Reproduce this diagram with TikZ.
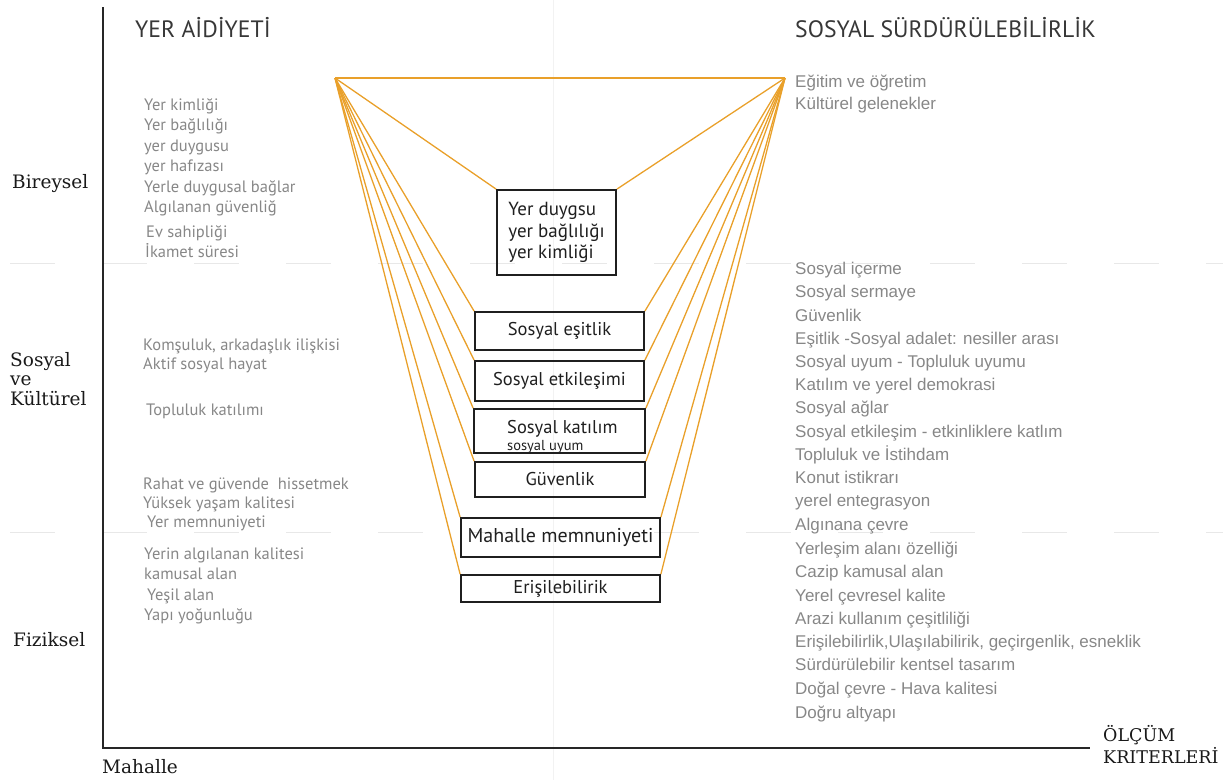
\documentclass[tikz,border=0pt]{standalone}
\usepackage{fontspec}
\setmainfont{PT Sans}
\newfontfamily\myr{PT Sans}
\newfontfamily\ari{Liberation Sans}
\newfontfamily\slab{DejaVu Serif}
\definecolor{org}{RGB}{233,160,42}
\definecolor{lgray}{RGB}{135,135,135}
\definecolor{tgray}{RGB}{55,55,55}
\begin{document}
\begin{tikzpicture}[x=1pt,y=-1pt,
 box/.style={draw=black!88, line width=1.8pt, inner sep=0pt, font=\myr\fontsize{18.5}{22}\selectfont, text=black!88},
 ll/.style={anchor=base west, inner sep=0pt, text=lgray, font=\myr\fontsize{16.5}{18}\selectfont},
 rl/.style={anchor=base west, inner sep=0pt, text=lgray, font=\ari\fontsize{17}{19}\selectfont},
 ax/.style={anchor=base west, inner sep=0pt, text=black!90, font=\slab\fontsize{18.5}{19}\selectfont},
 ttl/.style={anchor=base west, inner sep=0pt, text=tgray, font=\myr\fontsize{23.7}{26}\selectfont},
 link/.style={draw=org, line width=1.3pt},
 gridline/.style={draw=black!9, line width=1pt, dash pattern=on 45pt off 47pt}]
\useasboundingbox (0,0) rectangle (1223,780);
% faint guide lines
\draw[gridline] (10,263) -- (1223,263);
\draw[gridline] (10,532) -- (1223,532);
\draw[draw=black!5, line width=0.8pt] (553,0) -- (553,780);
% axes
\coordinate (yt) at (103,7);
\coordinate (o) at (103,748);
\coordinate (xe) at (1090,748);
\draw[line width=2pt, black!85] (yt) -- (o) -- (xe);
% titles
\node[ttl] (t1) at (135,37) {YER AİDİYETİ};
\node[ttl] (t2) at (795,37) {SOSYAL SÜRDÜRÜLEBİLİRLİK};
% axis labels
\node[ax] (a1) at (12,188) {Bireysel};
\node[ax] (a2) at (10,366) {Sosyal};
\node[ax] (a3) at (10,385) {ve};
\node[ax] (a4) at (10,405) {Kültürel};
\node[ax] (a5) at (13,646) {Fiziksel};
\node[ax] (a6) at (102,773) {Mahalle};
\node[ax, font=\slab\fontsize{17.5}{18}\selectfont] (a7) at (1103,741) {ÖLÇÜM};
\node[ax, font=\slab\fontsize{17.5}{18}\selectfont] (a8) at (1103,763) {KRITERLERİ};
% left list
\node[ll] (l1) at (144,110) {Yer kimliği};
\node[ll] (l2) at (144,130) {Yer bağlılığı};
\node[ll] (l3) at (144,151) {yer duygusu};
\node[ll] (l4) at (144,171) {yer hafızası};
\node[ll] (l5) at (144,192) {Yerle duygusal bağlar};
\node[ll] (l6) at (144,212) {Algılanan güvenliğ};
\node[ll] (l7) at (146,237) {Ev sahipliği};
\node[ll] (l8) at (145,257) {İkamet süresi};
\node[ll] (l9) at (143,350) {Komşuluk, arkadaşlık ilişkisi};
\node[ll] (l10) at (143,369) {Aktif sosyal hayat};
\node[ll] (l11) at (146,415) {Topluluk katılımı};
\node[ll] (l12) at (143,489) {Rahat ve güvende\ \ hissetmek};
\node[ll] (l13) at (143,508) {Yüksek yaşam kalitesi};
\node[ll] (l14) at (147,527) {Yer memnuniyeti};
\node[ll] (l15) at (144,559) {Yerin algılanan kalitesi};
\node[ll] (l16) at (144,579) {kamusal alan};
\node[ll] (l17) at (147,600) {Yeşil alan};
\node[ll] (l18) at (144,620) {Yapı yoğunluğu};
% right list
\node[rl] (r1) at (795,87) {Eğitim ve öğretim};
\node[rl] (r2) at (795,109) {Kültürel gelenekler};
\node[rl] (r3) at (795,274) {Sosyal içerme};
\node[rl] (r4) at (795,297) {Sosyal sermaye};
\node[rl] (r5) at (795,321) {Güvenlik};
\node[rl] (r6) at (795,344) {Eşitlik -Sosyal adalet: nesiller arası};
\node[rl] (r7) at (795,367) {Sosyal uyum - Topluluk uyumu};
\node[rl] (r8) at (795,390) {Katılım ve yerel demokrasi};
\node[rl] (r9) at (795,413) {Sosyal ağlar};
\node[rl] (r10) at (795,437) {Sosyal etkileşim - etkinliklere katlım};
\node[rl] (r11) at (795,460) {Topluluk ve İstihdam};
\node[rl] (r12) at (795,483) {Konut istikrarı};
\node[rl] (r13) at (795,506) {yerel entegrasyon};
\node[rl] (r14) at (795,530) {Algınana çevre};
\node[rl] (r15) at (795,554) {Yerleşim alanı özelliği};
\node[rl] (r16) at (795,577) {Cazip kamusal alan};
\node[rl] (r17) at (795,601) {Yerel çevresel kalite};
\node[rl] (r18) at (795,624) {Arazi kullanım çeşitliliği};
\node[rl] (r19) at (795,647) {Erişilebilirlik,Ulaşılabilirik, geçirgenlik, esneklik};
\node[rl] (r20) at (795,670) {Sürdürülebilir kentsel tasarım};
\node[rl] (r21) at (795,694) {Doğal çevre - Hava kalitesi};
\node[rl] (r22) at (795,718) {Doğru altyapı};
% apexes
\coordinate (L) at (335,78);
\coordinate (R) at (785,78);
% boxes
\node[box, minimum width=119pt, minimum height=85pt, align=left, font=\myr\fontsize{19}{21.5}\selectfont] (b1) at (556.5,232.5) {Yer duygsu\\yer bağlılığı\\yer kimliği};
\node[box, minimum width=169pt, minimum height=38pt] (b2) at (559.5,331) {Sosyal eşitlik};
\node[box, minimum width=169pt, minimum height=40pt] (b3) at (559.5,381) {Sosyal etkileşimi};
\node[box, minimum width=171pt, minimum height=44pt] (b4) at (559.5,431) {};
\node[anchor=base west, inner sep=0pt, font=\myr\fontsize{18.5}{20}\selectfont, text=black!88] (b4a) at (507,433) {Sosyal katılım};
\node[anchor=base west, inner sep=0pt, font=\myr\fontsize{14.5}{15}\selectfont, text=black!88] (b4b) at (507,450) {sosyal uyum};
\node[box, minimum width=170pt, minimum height=35pt] (b5) at (560,479.5) {Güvenlik};
\node[box, minimum width=199pt, minimum height=39pt, font=\myr\fontsize{20}{22}\selectfont] (b6) at (560.5,537.5) {Mahalle memnuniyeti};
\node[box, minimum width=199pt, minimum height=27pt] (b7) at (560.5,588.5) {Erişilebilirik};
% orange connectors
\draw[link] (L) -- (R);
\foreach \i in {1,...,7}{
  \draw[link] (L) -- (b\i.north west);
  \draw[link] (R) -- (b\i.north east);
}
\end{tikzpicture}
\end{document}
